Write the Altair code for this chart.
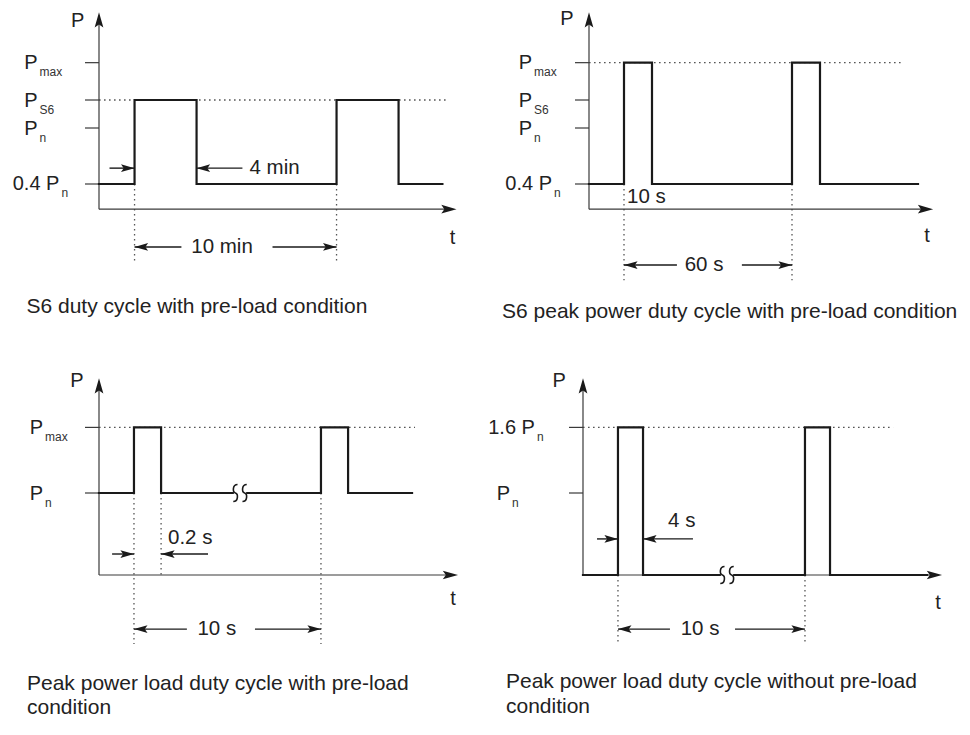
import altair as alt
import pandas as pd

FONT = "Liberation Sans"
INK = "#1a1a1a"
AXIS_C = "#3a3a3a"
GUIDE_C = "#555555"
TEXT_C = "#222222"

# ---------------- captions ----------------
A_CAPTION = ["S6 duty cycle with pre-load condition"]
B_CAPTION = ["S6 peak power duty cycle with pre-load condition"]
C_CAPTION = ["Peak power load duty cycle with pre-load", "condition"]
D_CAPTION = ["Peak power load duty cycle without pre-load", "condition"]

# ---------------- Panel A: S6 duty cycle (t in min, P in multiples of Pn) ----------------
A_SIGNAL_T = [0, 1.76, 1.76, 4.83, 4.83, 11.76, 11.76, 14.83, 14.83, 17.0]
A_SIGNAL_P = [0.4, 0.4, 1.3, 1.3, 0.4, 0.4, 1.3, 1.3, 0.4, 0.4]
A_LEVELS = [1.7, 1.3, 1.0, 0.4]
A_LEVEL_TEXT = ["P", "P", "P", "0.4 P"]
A_LEVEL_SUB = ["max", "S6", "n", "n"]
A_LEVEL_LABEL_T = [-3.04, -3.04, -3.04, -1.96]
A_REF = [1.3, 17.2]                      # dotted level, dotted end
A_EDGES = [[1.76, 0.4, -0.45], [11.76, 0.4, -0.45]]
A_ARROWS = [[0.52, 1.76, 0.57], [7.1, 4.83, 0.57], [4.08, 1.76, -0.275], [8.59, 11.76, -0.275]]
A_NOTES = [["4 min", 7.45, 0.57, "left"], ["10 min", 6.09, -0.275, "center"]]
A_AXES = [0.13, 2.24, 17.7]              # axis base level, P-arrow tip, t-arrow tip
A_NAMES = [["P", -1.06, 2.15], ["t", 17.5, -0.18]]
A_CAPTION_AT = [[-3.59, -0.982]]
A_BREAKS = []

# ---------------- Panel B: S6 peak power (t in s) ----------------
B_SIGNAL_T = [0, 12.5, 12.5, 22.5, 22.5, 72.5, 72.5, 82.5, 82.5, 117.5]
B_SIGNAL_P = [0.4, 0.4, 1.7, 1.7, 0.4, 0.4, 1.7, 1.7, 0.4, 0.4]
B_LEVELS = [1.7, 1.3, 1.0, 0.4]
B_LEVEL_TEXT = ["P", "P", "P", "0.4 P"]
B_LEVEL_SUB = ["max", "S6", "n", "n"]
B_LEVEL_LABEL_T = [-20.36, -20.36, -20.36, -13.2]
B_REF = [1.7, 112.1]
B_EDGES = [[12.5, 0.4, -0.63], [72.5, 0.4, -0.63]]
B_ARROWS = [[31.4, 12.5, -0.468], [54.6, 72.5, -0.468]]
B_NOTES = [["10 s", 13.6, 0.262, "left"], ["60 s", 41.1, -0.468, "center"]]
B_AXES = [0.13, 2.24, 122.9]
B_NAMES = [["P", -7.86, 2.17], ["t", 120.7, -0.16]]
B_CAPTION_AT = [[-31.07, -1.036]]
B_BREAKS = []

# ---------------- Panel C: peak power with pre-load (t in s) ----------------
C_SIGNAL_T = [0, 1.87, 1.87, 3.32, 3.32, 11.87, 11.87, 13.32, 13.32, 16.74]
C_SIGNAL_P = [1.0, 1.0, 1.8, 1.8, 1.0, 1.0, 1.8, 1.8, 1.0, 1.0]
C_LEVELS = [1.8, 1.0]
C_LEVEL_TEXT = ["P", "P"]
C_LEVEL_SUB = ["max", "n"]
C_LEVEL_LABEL_T = [-2.99, -2.99]
C_REF = [1.8, 16.9]
C_EDGES = [[1.87, 1.0, -0.84], [3.32, 1.0, 0.0], [11.87, 1.0, -0.84]]
C_ARROWS = [[0.7, 1.87, 0.256], [5.83, 3.32, 0.256], [4.7, 1.87, -0.66], [8.34, 11.87, -0.66]]
C_NOTES = [["0.2 s", 3.69, 0.45, "left"], ["10 s", 6.3, -0.66, "center"]]
C_AXES = [0.0, 2.40, 19.2]
C_NAMES = [["P", -1.18, 2.37], ["t", 18.93, -0.29]]
C_CAPTION_AT = [[-3.85, -1.402], [-3.85, -1.695]]
C_BREAKS = [[7.54, 1.0]]

# ---------------- Panel D: peak power without pre-load (t in s) ----------------
D_SIGNAL_T = [0, 1.87, 1.87, 3.21, 3.21, 11.87, 11.87, 13.21, 13.21, 18.4]
D_SIGNAL_P = [0.0, 0.0, 1.8, 1.8, 0.0, 0.0, 1.8, 1.8, 0.0, 0.0]
D_LEVELS = [1.8, 1.0]
D_LEVEL_TEXT = ["1.6 P", "P"]
D_LEVEL_SUB = ["n", "n"]
D_LEVEL_LABEL_T = [-2.57, -3.9]
D_REF = [1.8, 16.58]
D_EDGES = [[1.87, 0.0, -0.84], [11.87, 0.0, -0.84]]
D_ARROWS = [[0.75, 1.87, 0.44], [5.88, 3.21, 0.44], [4.65, 1.87, -0.66], [8.13, 11.87, -0.66]]
D_NOTES = [["4 s", 4.55, 0.66, "left"], ["10 s", 6.26, -0.66, "center"]]
D_AXES = [0.0, 2.40, 19.2]
D_NAMES = [["P", -1.28, 2.37], ["t", 18.98, -0.34]]
D_CAPTION_AT = [[-4.12, -1.378], [-4.12, -1.683]]
D_BREAKS = [[7.7, 0.0]]

# panel geometry: width, height, px per time unit, px per power unit, px of t=0, px of P=0 (from top)
LAY_A = (472, 350, 20.2, 93.33, 91.0, 213.33)
LAY_B = (482, 350, 2.8, 93.33, 109.0, 213.33)
LAY_C = (472, 362, 18.7, 82.0, 91.0, 217.0)
LAY_D = (482, 362, 18.7, 82.0, 103.0, 217.0)

TICK_PX = 14
UP = "M0,0L-1,3.5L0,2.8L1,3.5Z"
RIGHT = "M0,0L-3.5,-1L-2.8,0L-3.5,1Z"
LEFT = "M0,0L3.5,-1L2.8,0L3.5,1Z"
HEAD_SCALE = alt.Scale(domain=["up", "right", "left"], range=[UP, RIGHT, LEFT])
GAP = "M-1,-0.5L1,-0.5L1,0.5L-1,0.5Z"
SS = ("M-0.29,-1C-0.89,-1 -0.89,-0.1 -0.54,0C-0.19,0.1 -0.19,1 -0.79,1"
      "M0.79,-1C0.19,-1 0.19,-0.1 0.54,0C0.89,0.1 0.89,1 0.29,1")


def build_panel(sig_t, sig_p, levels, ltext, lsub, lt, ref, edges, arrows, notes,
                axes, names, caption, cap_at, breaks, lay):
    W, H, kx, ky, ox, oy = lay
    xs = alt.Scale(domain=[-ox / kx, (W - ox) / kx], nice=False, zero=False)
    ys = alt.Scale(domain=[(oy - H) / ky, oy / ky], nice=False, zero=False)

    def X():
        return alt.X("t:Q", scale=xs, axis=None)

    def Y():
        return alt.Y("p:Q", scale=ys, axis=None)

    def segs(rows):
        return pd.DataFrame(rows, columns=["t", "p", "t2", "p2"])

    base_p, ytip, xtip = axes
    tick0 = -TICK_PX / kx
    axis_rows = [[0, base_p, 0, ytip - 6 / ky], [0, base_p, xtip - 6 / kx, base_p]]
    axis_rows += [[tick0, lv, 0, lv] for lv in levels]

    layers = []
    # dotted guides
    guide_rows = [[0, ref[0], ref[1], ref[0]]] + [[e[0], e[1], e[0], e[2]] for e in edges]
    layers.append(alt.Chart(segs(guide_rows)).mark_rule(
        color=GUIDE_C, strokeWidth=1.3, strokeDash=[1.6, 3.4]).encode(
        x=X(), x2="t2:Q", y=Y(), y2="p2:Q"))
    # axes + ticks
    layers.append(alt.Chart(segs(axis_rows)).mark_rule(
        color=AXIS_C, strokeWidth=1.2).encode(x=X(), x2="t2:Q", y=Y(), y2="p2:Q"))
    # axis arrowheads
    ah = pd.DataFrame({"t": [0, xtip], "p": [ytip, base_p], "d": ["up", "right"]})
    layers.append(alt.Chart(ah).mark_point(filled=True, size=76, opacity=1, color=INK,
                                           strokeWidth=0).encode(
        x=X(), y=Y(), shape=alt.Shape("d:N", scale=HEAD_SCALE, legend=None)))
    # annotation arrows
    shaft_rows = [[a[0], a[2], a[1], a[2]] for a in arrows]
    layers.append(alt.Chart(segs(shaft_rows)).mark_rule(color=INK, strokeWidth=1.4).encode(
        x=X(), x2="t2:Q", y=Y(), y2="p2:Q"))
    heads = pd.DataFrame({"t": [a[1] for a in arrows], "p": [a[2] for a in arrows],
                          "d": ["right" if a[1] > a[0] else "left" for a in arrows]})
    layers.append(alt.Chart(heads).mark_point(filled=True, size=60, opacity=1, color=INK,
                                              strokeWidth=0).encode(
        x=X(), y=Y(), shape=alt.Shape("d:N", scale=HEAD_SCALE, legend=None)))
    # signal
    sig = pd.DataFrame({"t": sig_t, "p": sig_p, "i": list(range(len(sig_t)))})
    layers.append(alt.Chart(sig).mark_line(color=INK, strokeWidth=2.2, strokeJoin="miter",
                                           strokeCap="square").encode(
        x=X(), y=Y(), order="i:Q"))
    # break symbols
    if breaks:
        br = pd.DataFrame(breaks, columns=["t", "p"])
        layers.append(alt.Chart(br).mark_point(shape=GAP, filled=True, color="white",
                                               size=150, opacity=1, strokeWidth=0).encode(
            x=X(), y=Y()))
        layers.append(alt.Chart(br).mark_point(shape=SS, filled=False, color=INK,
                                               size=290, opacity=1, strokeWidth=1.6).encode(
            x=X(), y=Y()))
    # level labels
    lab = pd.DataFrame({"t": lt, "p": levels, "main": ltext, "sub": lsub})
    layers.append(alt.Chart(lab).mark_text(align="right", baseline="alphabetic", dy=6.5,
                                           fontSize=20, color=TEXT_C).encode(
        x=X(), y=Y(), text="main:N"))
    layers.append(alt.Chart(lab).mark_text(align="left", baseline="alphabetic", dx=2, dy=13.5,
                                           fontSize=12, color="#333333").encode(
        x=X(), y=Y(), text="sub:N"))
    # notes
    nt = pd.DataFrame(notes, columns=["txt", "t", "p", "al"])
    for al in ["left", "center"]:
        part = nt[nt["al"] == al]
        if len(part):
            layers.append(alt.Chart(part).mark_text(align=al, baseline="middle", fontSize=20.5,
                                                    color=TEXT_C).encode(
                x=X(), y=Y(), text="txt:N"))
    # axis names
    nm = pd.DataFrame(names, columns=["txt", "t", "p"])
    layers.append(alt.Chart(nm).mark_text(align="center", baseline="middle", fontSize=20,
                                          color=TEXT_C).encode(x=X(), y=Y(), text="txt:N"))
    # caption
    cp = pd.DataFrame({"txt": caption, "t": [c[0] for c in cap_at], "p": [c[1] for c in cap_at]})
    layers.append(alt.Chart(cp).mark_text(align="left", baseline="alphabetic", fontSize=21,
                                          color=TEXT_C).encode(x=X(), y=Y(), text="txt:N"))
    return alt.layer(*layers).properties(width=W, height=H)


pa = build_panel(A_SIGNAL_T, A_SIGNAL_P, A_LEVELS, A_LEVEL_TEXT, A_LEVEL_SUB, A_LEVEL_LABEL_T,
                 A_REF, A_EDGES, A_ARROWS, A_NOTES, A_AXES, A_NAMES, A_CAPTION, A_CAPTION_AT,
                 A_BREAKS, LAY_A)
pb = build_panel(B_SIGNAL_T, B_SIGNAL_P, B_LEVELS, B_LEVEL_TEXT, B_LEVEL_SUB, B_LEVEL_LABEL_T,
                 B_REF, B_EDGES, B_ARROWS, B_NOTES, B_AXES, B_NAMES, B_CAPTION, B_CAPTION_AT,
                 B_BREAKS, LAY_B)
pc = build_panel(C_SIGNAL_T, C_SIGNAL_P, C_LEVELS, C_LEVEL_TEXT, C_LEVEL_SUB, C_LEVEL_LABEL_T,
                 C_REF, C_EDGES, C_ARROWS, C_NOTES, C_AXES, C_NAMES, C_CAPTION, C_CAPTION_AT,
                 C_BREAKS, LAY_C)
pd_ = build_panel(D_SIGNAL_T, D_SIGNAL_P, D_LEVELS, D_LEVEL_TEXT, D_LEVEL_SUB, D_LEVEL_LABEL_T,
                  D_REF, D_EDGES, D_ARROWS, D_NOTES, D_AXES, D_NAMES, D_CAPTION, D_CAPTION_AT,
                  D_BREAKS, LAY_D)

chart = alt.vconcat(
    alt.hconcat(pa, pb, spacing=0),
    alt.hconcat(pc, pd_, spacing=0),
    spacing=0,
).properties(padding=0, background="white").configure_view(strokeWidth=0).configure_text(font=FONT)

chart.save("out.html", embed_options={"renderer": "svg", "actions": False})
